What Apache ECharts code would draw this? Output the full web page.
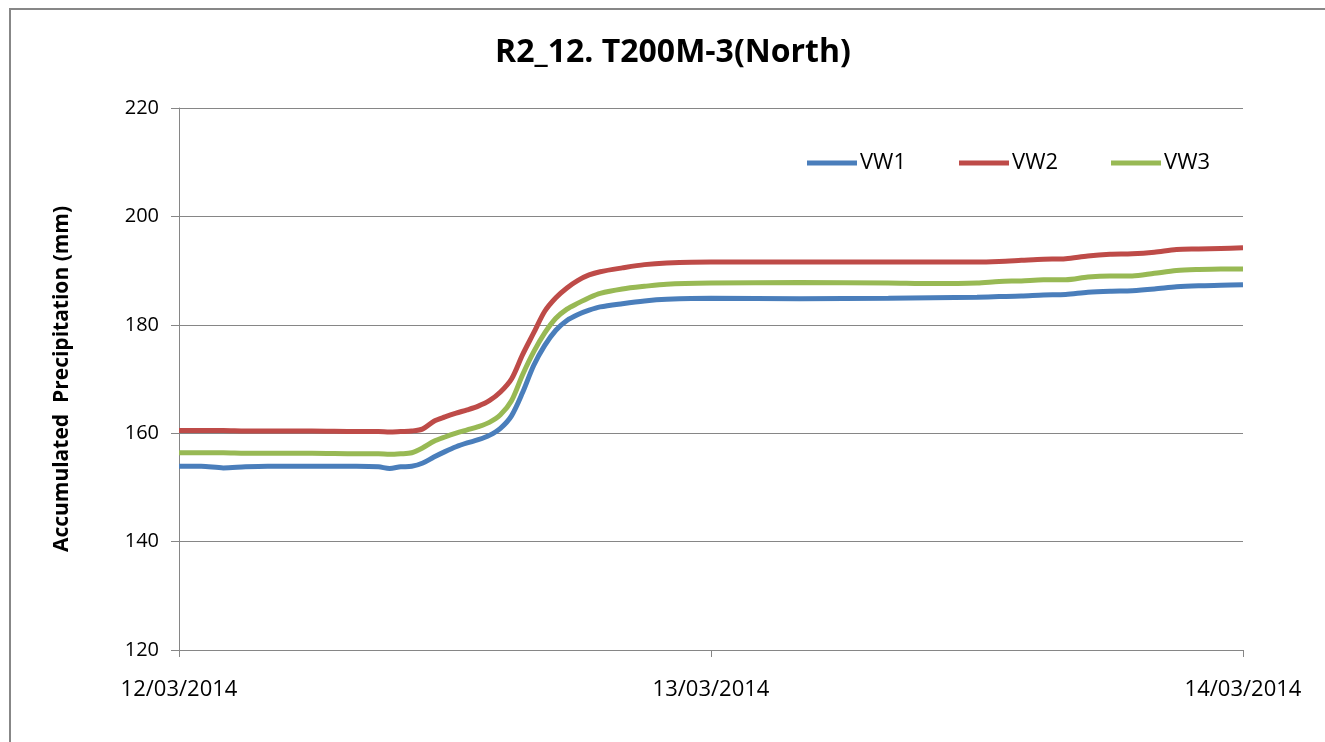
<!DOCTYPE html>
<html>
<head>
<meta charset="utf-8">
<title>R2_12. T200M-3(North)</title>
<script src="https://cdn.jsdelivr.net/npm/echarts@6/dist/echarts.min.js"></script>
<style>
  html, body {
    margin: 0;
    padding: 0;
    background: #fff;
  }
  #chart {
    width: 1325px;
    height: 742px;
  }
</style>
</head>
<body>
<div id="chart"></div>
<script>
  // hours since 12/03/2014 00:00
  var hours = [0, 1, 2, 3, 4, 6, 8, 9, 9.5, 10, 10.5, 11, 11.5, 12, 12.5, 13, 13.5, 14, 14.5, 15, 15.5, 16, 16.5, 17, 17.5, 18, 18.5, 19, 20, 21, 22, 24, 28, 32, 34, 36, 37, 38, 39, 40, 41, 42, 43, 44, 45, 46, 47, 48];

  var vw1 = [153.9, 153.9, 153.6, 153.8, 153.9, 153.9, 153.9, 153.8, 153.5, 153.8, 153.9, 154.5, 155.6, 156.6, 157.5, 158.2, 158.8, 159.6, 160.9, 163.2, 167.5, 172.5, 176.2, 179.0, 180.8, 181.9, 182.7, 183.3, 183.9, 184.4, 184.7, 184.9, 184.8, 184.9, 185.0, 185.1, 185.2, 185.3, 185.5, 185.6, 186.0, 186.2, 186.3, 186.6, 187.0, 187.2, 187.3, 187.4];
  var vw2 = [160.5, 160.5, 160.5, 160.4, 160.4, 160.4, 160.3, 160.3, 160.2, 160.3, 160.4, 160.8, 162.2, 163.0, 163.7, 164.3, 165.0, 166.0, 167.6, 170.0, 174.5, 178.5, 182.5, 185.0, 186.8, 188.2, 189.2, 189.8, 190.5, 191.1, 191.4, 191.6, 191.6, 191.6, 191.6, 191.6, 191.7, 191.9, 192.1, 192.2, 192.7, 193.0, 193.1, 193.4, 193.9, 194.0, 194.1, 194.2];
  var vw3 = [156.4, 156.4, 156.4, 156.3, 156.3, 156.3, 156.2, 156.2, 156.1, 156.2, 156.4, 157.3, 158.5, 159.3, 160.0, 160.6, 161.2, 162.0, 163.4, 166.0, 170.8, 175.0, 178.5, 181.2, 182.9, 184.0, 185.0, 185.8, 186.6, 187.1, 187.5, 187.7, 187.8, 187.7, 187.6, 187.7, 188.0, 188.1, 188.3, 188.3, 188.8, 189.0, 189.0, 189.5, 190.0, 190.2, 190.3, 190.3];

  var dayLabels = ["12/03/2014", "13/03/2014", "14/03/2014"];
  var seriesNames = ["VW1", "VW2", "VW3"];
  var colors = ["#4a7ebb", "#be4b48", "#98b954"];

  function pairs(values) {
    return hours.map(function (h, i) {
      return [h, values[i]];
    });
  }

  var font = "'Open Sans', 'Liberation Sans', sans-serif";
  var myChart = echarts.init(document.getElementById("chart"));

  var option = {
    animation: false,
    color: colors,
    textStyle: { fontFamily: font },
    title: {
      text: "R2_12. T200M-3(North)",
      left: 668,
      top: 32,
      textAlign: "center",
      textStyle: { fontSize: 32, fontWeight: "bold", color: "#000", fontFamily: font },
    },
    graphic: [
      {
        type: "rect",
        shape: { x: 10, y: 9, width: 1400, height: 800 },
        style: { fill: "none", stroke: "#878787", lineWidth: 2 },
        silent: true,
      },
    ],
    legend: {
      left: 802,
      top: 147,
      icon: "rect",
      itemWidth: 50,
      itemHeight: 5,
      itemGap: 53,
      textStyle: { fontSize: 22, color: "#000", padding: [0, 0, 0, -2] },
      data: seriesNames,
    },
    grid: {
      left: 179,
      right: 82,
      top: 108,
      bottom: 92,
      containLabel: false,
    },
    xAxis: {
      type: "value",
      min: 0,
      max: 48,
      interval: 24,
      axisLine: { lineStyle: { color: "#868686", width: 1 } },
      axisTick: { show: true, length: 7, lineStyle: { color: "#868686" } },
      axisLabel: {
        margin: 29,
        fontSize: 22,
        color: "#000",
        formatter: function (v) {
          return dayLabels[v / 24];
        },
      },
      splitLine: { show: false },
    },
    yAxis: {
      type: "value",
      min: 120,
      max: 220,
      interval: 20,
      name: "Accumulated  Precipitation (mm)",
      nameLocation: "middle",
      nameGap: 106,
      nameTextStyle: { fontSize: 21, fontWeight: "bold", color: "#000" },
      axisLine: { show: true, lineStyle: { color: "#868686", width: 1 } },
      axisTick: { show: true, length: 8, lineStyle: { color: "#868686" } },
      axisLabel: { margin: 20, fontSize: 20, color: "#000" },
      splitLine: { show: true, lineStyle: { color: "#868686", width: 1 } },
    },
    series: [vw1, vw2, vw3].map(function (vals, i) {
      return {
        name: seriesNames[i],
        type: "line",
        symbol: "none",
        smooth: 0.3,
        lineStyle: { width: 5, color: colors[i] },
        data: pairs(vals),
      };
    }),
  };

  myChart.setOption(option);
</script>
</body>
</html>
